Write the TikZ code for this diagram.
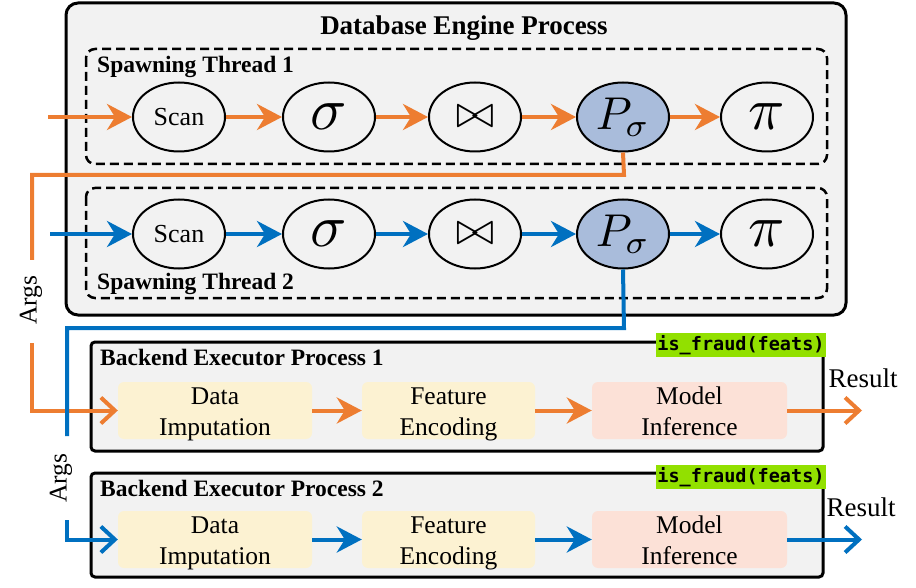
\documentclass[tikz,border=0pt]{standalone}
\usepackage{fontspec}
\setmainfont{Liberation Serif}
\newfontfamily\codefont{DejaVu Sans Mono}
\usetikzlibrary{arrows.meta,shapes.geometric}
\definecolor{myorange}{RGB}{237,125,49}
\definecolor{myblue}{RGB}{0,112,192}
\definecolor{boxgray}{RGB}{242,242,242}
\definecolor{psig}{RGB}{169,188,219}
\definecolor{yelbox}{RGB}{252,242,210}
\definecolor{pinkbox}{RGB}{252,225,215}
\definecolor{limebg}{RGB}{146,224,0}
\newcommand{\SIG}{\scalebox{6}{$\sigma$}}
\newcommand{\PIE}{\scalebox{6}{$\pi$}}
\newcommand{\JOIN}{\scalebox{4.6}{$\bowtie$}}
\newcommand{\PSIG}{\scalebox{4.6}{$P_\sigma$}}
\begin{document}
\begin{tikzpicture}[x=1pt,y=-1pt,
  op/.style={ellipse, draw, line width=2pt, fill=boxgray, minimum width=92pt, minimum height=69pt, inner sep=0pt},
  opsig/.style={op, fill=psig},
  scantxt/.style={font=\fontsize{26}{26}\selectfont},
  stagebox/.style={rounded corners=6pt, minimum height=57pt, inner sep=0pt},
  stagetxt/.style={align=center, inner sep=0pt, font=\fontsize{25.5}{31}\selectfont},
  flow/.style={line width=4pt, -{Stealth[length=25pt, width=26pt, inset=8pt]}},
  barb/.style={line width=4pt, -{Straight Barb[length=14pt, width=26pt, line width=4pt]}},
  conn/.style={line width=4pt},
  bigbox/.style={line width=3pt, fill=boxgray},
  dashbox/.style={line width=2.5pt, dash pattern=on 9pt off 5pt, rounded corners=9pt},
  ttl/.style={font=\bfseries\fontsize{23.5}{23.5}\selectfont, anchor=base west, inner sep=0pt},
  codelbl/.style={fill=limebg, font=\codefont\bfseries\fontsize{18.5}{18.5}\selectfont, inner sep=0pt, minimum width=170pt, minimum height=24pt},
  restxt/.style={font=\fontsize{27}{27}\selectfont, anchor=base, inner sep=0pt},
  argtxt/.style={font=\fontsize{25.5}{25.5}\selectfont, rotate=90, inner sep=0pt}
]
\useasboundingbox (0,0) rectangle (916,588);

% Database engine process
\draw[bigbox, rounded corners=12pt] (66,3) rectangle (846,315);
\node[font=\bfseries\fontsize{27}{27}\selectfont, anchor=base, inner sep=0pt] (dbt) at (464,35) {Database Engine Process};
\draw[dashbox] (86,49) rectangle (827,164);
\draw[dashbox] (86,188) rectangle (827,298);
\node[ttl] (st1) at (97,73) {Spawning Thread 1};
\node[ttl] (st2) at (97,289) {Spawning Thread 2};

% row 1
\node[op, scantxt] (s1) at (179,117) {Scan};
\node[op] (f1) at (329,117) {\SIG};
\node[op] (j1) at (475,117) {\JOIN};
\node[opsig] (p1) at (623,117) {\PSIG};
\node[op] (r1) at (767,117) {\PIE};
% row 2
\node[op, scantxt] (s2) at (179,234) {Scan};
\node[op] (f2) at (329,234) {\SIG};
\node[op] (j2) at (475,234) {\JOIN};
\node[opsig] (p2) at (623,234) {\PSIG};
\node[op] (r2) at (767,234) {\PIE};

\coordinate (in1) at (48,117);
\coordinate (in2) at (50,234);
\begin{scope}[myorange]
\draw[flow] (in1) -- (s1);
\draw[flow] (s1) -- (f1);
\draw[flow] (f1) -- (j1);
\draw[flow] (j1) -- (p1);
\draw[flow] (p1) -- (r1);
\end{scope}
\begin{scope}[myblue]
\draw[flow] (in2) -- (s2);
\draw[flow] (s2) -- (f2);
\draw[flow] (f2) -- (j2);
\draw[flow] (j2) -- (p2);
\draw[flow] (p2) -- (r2);
\end{scope}

% Backend executor process 1
\draw[bigbox, rounded corners=4pt] (91,342) rectangle (823,451);
\node[ttl] (b1t) at (100,365) {Backend Executor Process 1};
\node[codelbl] (c1) at (741,345) {is\_fraud(feats)};
\node[stagebox, fill=yelbox, minimum width=194pt] (d1) at (215,410.5) {};
\node[stagebox, fill=yelbox, minimum width=173pt] (e1) at (448.5,410.5) {};
\node[stagebox, fill=pinkbox, minimum width=195pt] (m1) at (689.5,410.5) {};
\node[stagetxt] (d1t) at (215,413.5) {Data\strut\\Imputation\strut};
\node[stagetxt] (e1t) at (448.5,413.5) {Feature\strut\\Encoding\strut};
\node[stagetxt] (m1t) at (689.5,413.5) {Model\strut\\Inference\strut};

% Backend executor process 2
\draw[bigbox, rounded corners=4pt] (91,473) rectangle (823,577);
\node[ttl] (b2t) at (100,496) {Backend Executor Process 2};
\node[codelbl] (c2) at (741,477) {is\_fraud(feats)};
\node[stagebox, fill=yelbox, minimum width=194pt] (d2) at (215,539.5) {};
\node[stagebox, fill=yelbox, minimum width=173pt] (e2) at (448.5,539.5) {};
\node[stagebox, fill=pinkbox, minimum width=195pt] (m2) at (689.5,539.5) {};
\node[stagetxt] (d2t) at (215,543) {Data\strut\\Imputation\strut};
\node[stagetxt] (e2t) at (448.5,543) {Feature\strut\\Encoding\strut};
\node[stagetxt] (m2t) at (689.5,543) {Model\strut\\Inference\strut};

% Args labels
\node[argtxt] (a1) at (31,300) {Args};
\node[argtxt] (a2) at (61,478) {Args};

% orange args connector
\coordinate (o1) at (624,175);
\coordinate (o2) at (32,175);
\coordinate (o3) at (32,260);
\coordinate (o4) at (32,343);
\coordinate (o5) at (32,410.5);
\draw[conn, myorange] (p1.south) -- (o1) -- (o2) -- (o3);
\draw[barb, myorange] (o4) -- (o5) -- (d1.west);
\draw[flow, myorange] (d1) -- (e1);
\draw[flow, myorange] (e1) -- (m1);
\coordinate (res1) at (862,410.5);
\draw[barb, myorange] (m1) -- (res1);
\node[restxt] (rt1) at (863,387) {Result};

% blue args connector
\coordinate (u1) at (624,328);
\coordinate (u2) at (67,328);
\coordinate (u3) at (67,436);
\coordinate (u4) at (67,520);
\coordinate (u5) at (67,539.5);
\draw[conn, myblue] (p2.south) -- (u1) -- (u2) -- (u3);
\draw[barb, myblue] (u4) -- (u5) -- (d2.west);
\draw[flow, myblue] (d2) -- (e2);
\draw[flow, myblue] (e2) -- (m2);
\coordinate (res2) at (862,539.5);
\draw[barb, myblue] (m2) -- (res2);
\node[restxt] (rt2) at (861,516) {Result};
\end{tikzpicture}
\end{document}
